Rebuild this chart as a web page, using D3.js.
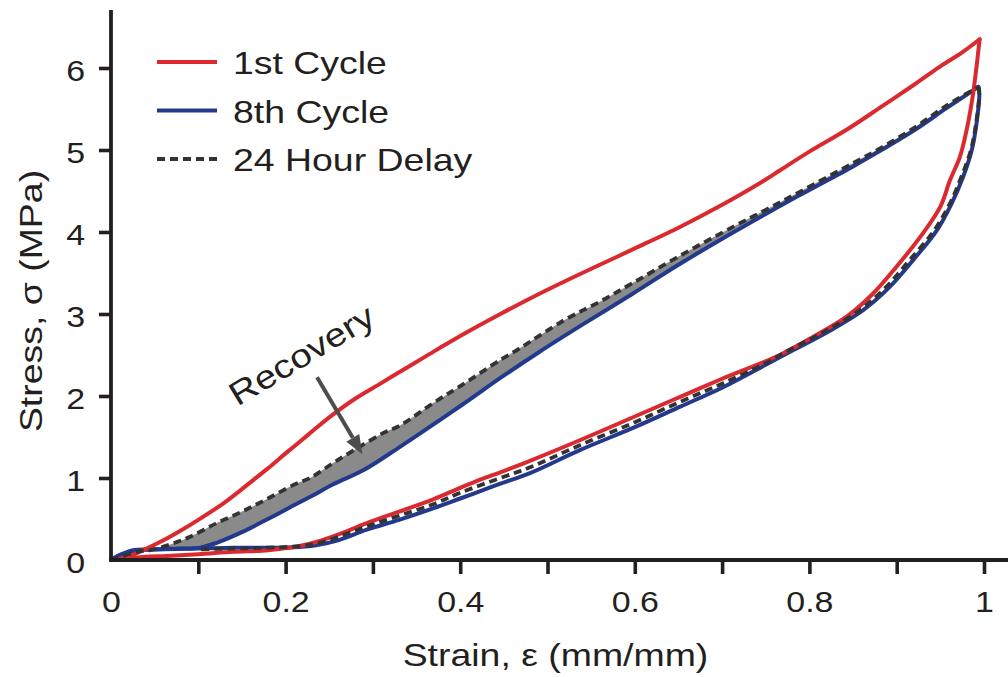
<!DOCTYPE html>
<html>
<head>
<meta charset="utf-8">
<script src="https://cdn.jsdelivr.net/npm/d3@7"></script>
<style>
  html, body { margin: 0; padding: 0; background: #fff; }
  svg { display: block; }
  text { font-family: "Liberation Sans", Arial, Helvetica, sans-serif; fill: #231f20; }
</style>
</head>
<body>
<svg id="chart" width="1008" height="677"></svg>
<script>
// ---- data: stress-strain loops (strain in mm/mm, stress in MPa) ----
const firstLoadStrain  = [0, 0.02, 0.037, 0.06, 0.08, 0.10, 0.13, 0.16, 0.18, 0.20, 0.225, 0.25, 0.28, 0.31, 0.33, 0.36, 0.39, 0.42, 0.446, 0.48, 0.52, 0.56, 0.60, 0.64, 0.675, 0.71, 0.75, 0.766, 0.80, 0.843, 0.88, 0.919, 0.95, 0.975, 0.995];
const firstLoadStress  = [0, 0.04, 0.12, 0.24, 0.36, 0.49, 0.70, 0.95, 1.12, 1.30, 1.52, 1.74, 1.97, 2.16, 2.29, 2.48, 2.67, 2.85, 3.00, 3.19, 3.40, 3.60, 3.80, 4.00, 4.19, 4.39, 4.64, 4.75, 4.98, 5.25, 5.51, 5.79, 6.02, 6.19, 6.35];
const firstUnloadStrain = [0.995, 0.9915, 0.987, 0.980, 0.9725, 0.961, 0.950, 0.927, 0.900, 0.873, 0.843, 0.804, 0.766, 0.70, 0.652, 0.60, 0.537, 0.48, 0.446, 0.423, 0.40, 0.369, 0.33, 0.293, 0.26, 0.235, 0.216, 0.18, 0.14, 0.10, 0.064, 0.03, 0.015];
const firstUnloadStress = [6.35, 6.02, 5.65, 5.24, 4.92, 4.63, 4.31, 3.94, 3.58, 3.25, 2.97, 2.72, 2.50, 2.21, 1.99, 1.75, 1.46, 1.21, 1.07, 0.98, 0.88, 0.74, 0.59, 0.45, 0.31, 0.22, 0.17, 0.12, 0.10, 0.07, 0.05, 0.03, 0.0];

const eighthLoadStrain  = [0, 0.01, 0.025, 0.05, 0.08, 0.102, 0.121, 0.15, 0.178, 0.21, 0.23, 0.254, 0.29, 0.331, 0.355, 0.377, 0.41, 0.446, 0.491, 0.54, 0.598, 0.65, 0.712, 0.75, 0.789, 0.85, 0.881, 0.92, 0.957, 0.9935];
const eighthLoadStress  = [0, 0.06, 0.12, 0.13, 0.14, 0.15, 0.21, 0.34, 0.49, 0.67, 0.78, 0.92, 1.10, 1.38, 1.55, 1.71, 1.95, 2.22, 2.54, 2.87, 3.25, 3.60, 3.99, 4.22, 4.45, 4.80, 4.99, 5.24, 5.51, 5.77];
const eighthUnloadStrain = [0.9935, 0.9947, 0.9915, 0.986, 0.976, 0.963, 0.946, 0.919, 0.892, 0.862, 0.824, 0.778, 0.75, 0.70, 0.652, 0.60, 0.537, 0.48, 0.446, 0.423, 0.40, 0.369, 0.33, 0.293, 0.26, 0.235, 0.216, 0.18, 0.14, 0.10, 0.06, 0.03, 0.01, 0];
const eighthUnloadStress = [5.77, 5.69, 5.33, 5.00, 4.67, 4.35, 4.02, 3.66, 3.33, 3.05, 2.80, 2.54, 2.38, 2.10, 1.87, 1.62, 1.34, 1.06, 0.93, 0.84, 0.75, 0.63, 0.49, 0.37, 0.24, 0.18, 0.16, 0.15, 0.15, 0.14, 0.13, 0.12, 0.06, 0];

const delayLoadStrain  = [0, 0.03, 0.045, 0.068, 0.09, 0.121, 0.15, 0.178, 0.21, 0.228, 0.254, 0.28, 0.312, 0.331, 0.37, 0.40, 0.446, 0.465, 0.52, 0.56, 0.598, 0.65, 0.712, 0.75, 0.789, 0.85, 0.881, 0.92, 0.957, 0.9935];
const delayLoadStress  = [0, 0.10, 0.12, 0.19, 0.28, 0.45, 0.59, 0.74, 0.92, 1.00, 1.18, 1.35, 1.55, 1.64, 1.92, 2.12, 2.44, 2.56, 2.93, 3.15, 3.38, 3.70, 4.06, 4.27, 4.49, 4.84, 5.02, 5.27, 5.54, 5.77];
const delayUnloadStrain = [0.9935, 0.9945, 0.991, 0.985, 0.974, 0.961, 0.943, 0.915, 0.888, 0.858, 0.820, 0.775, 0.75, 0.70, 0.652, 0.60, 0.537, 0.48, 0.446, 0.40, 0.369, 0.33, 0.293, 0.26, 0.235, 0.216, 0.18, 0.14, 0.10];
const delayUnloadStress = [5.77, 5.69, 5.33, 5.00, 4.67, 4.35, 4.02, 3.66, 3.33, 3.05, 2.80, 2.55, 2.40, 2.15, 1.93, 1.68, 1.40, 1.13, 1.00, 0.82, 0.68, 0.54, 0.41, 0.28, 0.20, 0.17, 0.15, 0.14, 0.13];

const seriesNames = ["1st Cycle", "8th Cycle", "24 Hour Delay"];
const xTickValues = [0, 0.1, 0.2, 0.3, 0.4, 0.5, 0.6, 0.7, 0.8, 0.9, 1.0];
const yTickValues = [0, 1, 2, 3, 4, 5, 6];
const xTitle = "Strain, \u03b5 (mm/mm)";
const yTitle = "Stress, \u03c3 (MPa)";
const annotationText = "Recovery";
const arrowFrom = [0.236, 2.23];
const arrowTo = [0.288, 1.29];
const annotationAt = [0.225, 2.38];

// ---- helpers ----
const zip = (xs, ys) => xs.map((x, i) => [x, ys[i]]);
const firstLoad = zip(firstLoadStrain, firstLoadStress), firstUnload = zip(firstUnloadStrain, firstUnloadStress);
const eighthLoad = zip(eighthLoadStrain, eighthLoadStress), eighthUnload = zip(eighthUnloadStrain, eighthUnloadStress);
const delayLoad = zip(delayLoadStrain, delayLoadStress), delayUnload = zip(delayUnloadStrain, delayUnloadStress);
// band between the delayed reload and the 8th-cycle load curve
const recoveryBand = delayLoad.concat(eighthLoad.slice().reverse());

const SX = 1.17;              // wide setting of the figure's typeface
const INK = "#231f20";
const RED = "#da2a2f", BLUE = "#233a8c", DASH = "#333333";

const svg = d3.select("#chart");
const x = d3.scaleLinear().domain([0, 1]).range([111, 984]);
const y = d3.scaleLinear().domain([0, 6]).range([560, 68]);
const xEnd = 1008, yTop = 10;

const line = d3.line().x(d => x(d[0])).y(d => y(d[1])).curve(d3.curveCatmullRom.alpha(0.5));

// recovery band
svg.append("path").attr("d", line(recoveryBand) + "Z")
  .attr("fill", "#8a8a8a").attr("stroke", "none");

// curves: each cycle drawn as its loading and unloading branch
function drawCycle(branches, color, width, dash) {
  branches.forEach(b => {
    svg.append("path").attr("d", line(b))
      .attr("fill", "none").attr("stroke", color).attr("stroke-width", width)
      .attr("stroke-linejoin", "round").attr("stroke-linecap", dash ? "butt" : "round")
      .attr("stroke-dasharray", dash);
  });
}
drawCycle([eighthLoad, eighthUnload], BLUE, 4, null);
drawCycle([firstLoad, firstUnload], RED, 4, null);
drawCycle([delayLoad, delayUnload], DASH, 3.8, "8,5");

// ---- axes ----
const xAxis = d3.axisBottom(x).tickValues(xTickValues).tickSize(14).tickSizeOuter(0)
  .tickFormat(d => (Math.round(d * 10) % 2 === 0) ? String(+d.toFixed(1)) : "");
const gx = svg.append("g").attr("transform", `translate(0,${y(0)})`).call(xAxis);
gx.select(".domain").remove();
gx.selectAll(".tick line").attr("stroke", INK).attr("stroke-width", 3.6)
  .attr("display", d => d === 0 ? "none" : null);
gx.selectAll(".tick text")
  .attr("x", null).attr("y", null).attr("dy", null)
  .attr("transform", `translate(0,52) scale(${SX},1)`)
  .attr("text-anchor", "middle")
  .style("font-size", "29px").style("fill", INK);

const yAxis = d3.axisLeft(y).tickValues(yTickValues).tickSize(12).tickSizeOuter(0)
  .tickFormat(d => String(d));
const gy = svg.append("g").attr("transform", `translate(${x(0)},0)`).call(yAxis);
gy.select(".domain").remove();
gy.selectAll(".tick line").attr("stroke", INK).attr("stroke-width", 3.6)
  .attr("display", d => d === 0 ? "none" : null);
gy.selectAll(".tick text")
  .attr("x", null).attr("y", null).attr("dy", null)
  .attr("transform", `translate(-26,12.5) scale(${SX},1)`)
  .attr("text-anchor", "end")
  .style("font-size", "29px").style("fill", INK);

// axis lines
svg.append("line").attr("x1", x(0)).attr("x2", xEnd).attr("y1", y(0)).attr("y2", y(0))
  .attr("stroke", INK).attr("stroke-width", 3.8);
svg.append("line").attr("x1", x(0)).attr("x2", x(0)).attr("y1", y(0) + 1.9).attr("y2", yTop)
  .attr("stroke", INK).attr("stroke-width", 3.8);

// axis titles
svg.append("text").text(xTitle)
  .attr("transform", `translate(${(x(0) + x(1)) / 2 + 8},666) scale(${SX},1)`)
  .attr("text-anchor", "middle").style("font-size", "32px");
svg.append("text").text(yTitle)
  .attr("transform", `translate(42,301) rotate(-90) scale(${SX},1)`)
  .attr("text-anchor", "middle").style("font-size", "32px");

// ---- legend ----
const legendRows = [
  { name: seriesNames[0], color: RED, dash: null },
  { name: seriesNames[1], color: BLUE, dash: null },
  { name: seriesNames[2], color: DASH, dash: "8,5" }
];
const lg = svg.append("g");
legendRows.forEach((r, i) => {
  const ly = 62 + i * 48.5;
  lg.append("line").attr("x1", 157).attr("x2", 217).attr("y1", ly).attr("y2", ly)
    .attr("stroke", r.color).attr("stroke-width", 4).attr("stroke-dasharray", r.dash);
  lg.append("text").text(r.name)
    .attr("transform", `translate(233,${ly + 12}) scale(${SX},1)`)
    .style("font-size", "32px");
});

// ---- annotation ----
const ax0 = x(arrowFrom[0]), ay0 = y(arrowFrom[1]);
const ax1 = x(arrowTo[0]), ay1 = y(arrowTo[1]);
const ang = Math.atan2(ay1 - ay0, ax1 - ax0);
const headLen = 19, headHalf = 7.5;
const bx = ax1 - headLen * Math.cos(ang), by = ay1 - headLen * Math.sin(ang);
svg.append("line").attr("x1", ax0).attr("y1", ay0).attr("x2", bx).attr("y2", by)
  .attr("stroke", "#4d4d4d").attr("stroke-width", 4);
svg.append("path")
  .attr("d", `M${ax1},${ay1}L${bx - headHalf * Math.sin(ang)},${by + headHalf * Math.cos(ang)}L${bx + headHalf * Math.sin(ang)},${by - headHalf * Math.cos(ang)}Z`)
  .attr("fill", "#4d4d4d");

svg.append("text").text(annotationText)
  .attr("transform", `translate(${x(annotationAt[0])},${y(annotationAt[1])}) rotate(-31) scale(${SX},1)`)
  .attr("text-anchor", "middle").style("font-size", "33px");
</script>
</body>
</html>
